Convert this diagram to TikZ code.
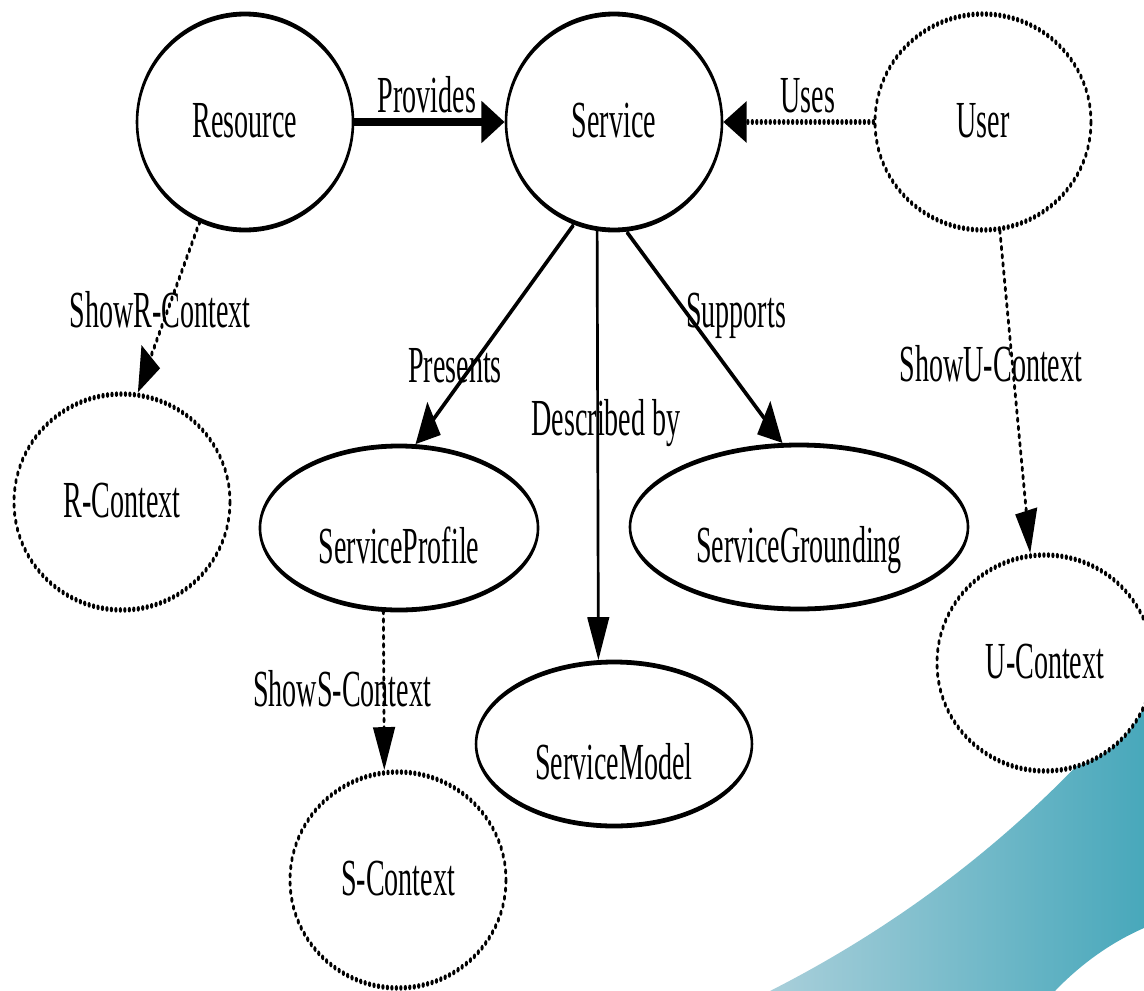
\documentclass[tikz,border=0pt]{standalone}
\usepackage{fontspec}
\setmainfont{Liberation Serif}
\usetikzlibrary{arrows.meta,shapes.geometric}
\definecolor{swooshlight}{HTML}{A9CFDA}
\definecolor{swooshdark}{HTML}{48A8BB}
\tikzset{
  labelfont/.style={font=\fontsize{52}{60}\selectfont},
  roundnode/.style={ellipse, draw, fill=white, labelfont, inner sep=0pt,
    line width=4.8pt, minimum width=400pt, minimum height=216pt,
    text height=31pt, text depth=0pt},
  ovalnode/.style={ellipse, draw, fill=white, labelfont, inner sep=0pt,
    line width=4.8pt, minimum height=164pt, text height=70pt, text depth=0pt},
  dotnode/.style={line width=5.5pt, line cap=round, dash pattern=on 0.6pt off 7.7pt},
  tipshape/.style={-{Triangle[length=43pt,width=40pt]}},
  solidarrow/.style={draw, line width=5pt, tipshape},
  boldarrow/.style={draw, line width=8pt, tipshape},
  dotarrow/.style={draw, line width=5.5pt, line cap=round,
    dash pattern=on 0.6pt off 7.7pt, tipshape},
  edgelabel/.style={labelfont, inner sep=0pt, anchor=base},
}
\begin{document}
\begin{tikzpicture}[x=1pt,y=-1pt]
\useasboundingbox (0,0) rectangle (1144,991);
\fill[white] (0,0) rectangle (1144,991);
% teal swoosh in the lower right corner
\shade[left color=swooshlight, right color=swooshdark]
  (770,991) .. controls (900,925) and (1030,830) .. (1144,690)
  -- (1144,928) .. controls (1105,945) and (1075,970) .. (1055,991) -- cycle;
% the graph, drawn horizontally condensed
\begin{scope}[transform canvas={xscale=0.54}, x=1.851852pt, y=-1pt]
  \node[roundnode] (resource) at (245,122) {Resource};
  \node[roundnode] (service) at (614,122) {Service};
  \node[roundnode, dotnode] (user) at (983,122) {User};
  \node[roundnode, dotnode] (rctx) at (122,502) {R-Context};
  \node[ovalnode, minimum width=515pt] (sprofile) at (399,528) {ServiceProfile};
  \node[ovalnode, minimum width=626pt] (sground) at (799,527) {ServiceGrounding};
  \node[ovalnode, minimum width=511pt] (smodel) at (614,744) {ServiceModel};
  \node[roundnode, dotnode] (sctx) at (398,880) {S-Context};
  \node[roundnode, dotnode] (uctx) at (1045,663) {U-Context};

  \draw[boldarrow] (resource.east) -- (service.west);
  \draw[dotarrow] (user.west) -- (service.east);
  \draw[dotarrow] (resource.230.7) -- (rctx.75.7);
  \draw[solidarrow] (service.234.5) -- (sprofile.70.4);
  \draw[solidarrow] (service.254.7) -- (smodel.109.9);
  \draw[solidarrow] (service.282.5) -- (sground.110.9);
  \draw[dotarrow] (sprofile.251.1) -- (sctx.103.4);
  \draw[dotarrow] (user.286.3) -- (uctx.104.2);

  \node[edgelabel] (lprovides) at (427,112) {Provides};
  \node[edgelabel] (luses) at (808,112) {Uses};
  \node[edgelabel] (lshowr) at (160,327) {ShowR-Context};
  \node[edgelabel] (lpresents) at (455,382) {Presents};
  \node[edgelabel] (ldescribed) at (606,435) {Described by};
  \node[edgelabel] (lsupports) at (736,327) {Supports};
  \node[edgelabel] (lshowu) at (991,381) {ShowU-Context};
  \node[edgelabel] (lshows) at (342,706) {ShowS-Context};
\end{scope}
\end{tikzpicture}
\end{document}
